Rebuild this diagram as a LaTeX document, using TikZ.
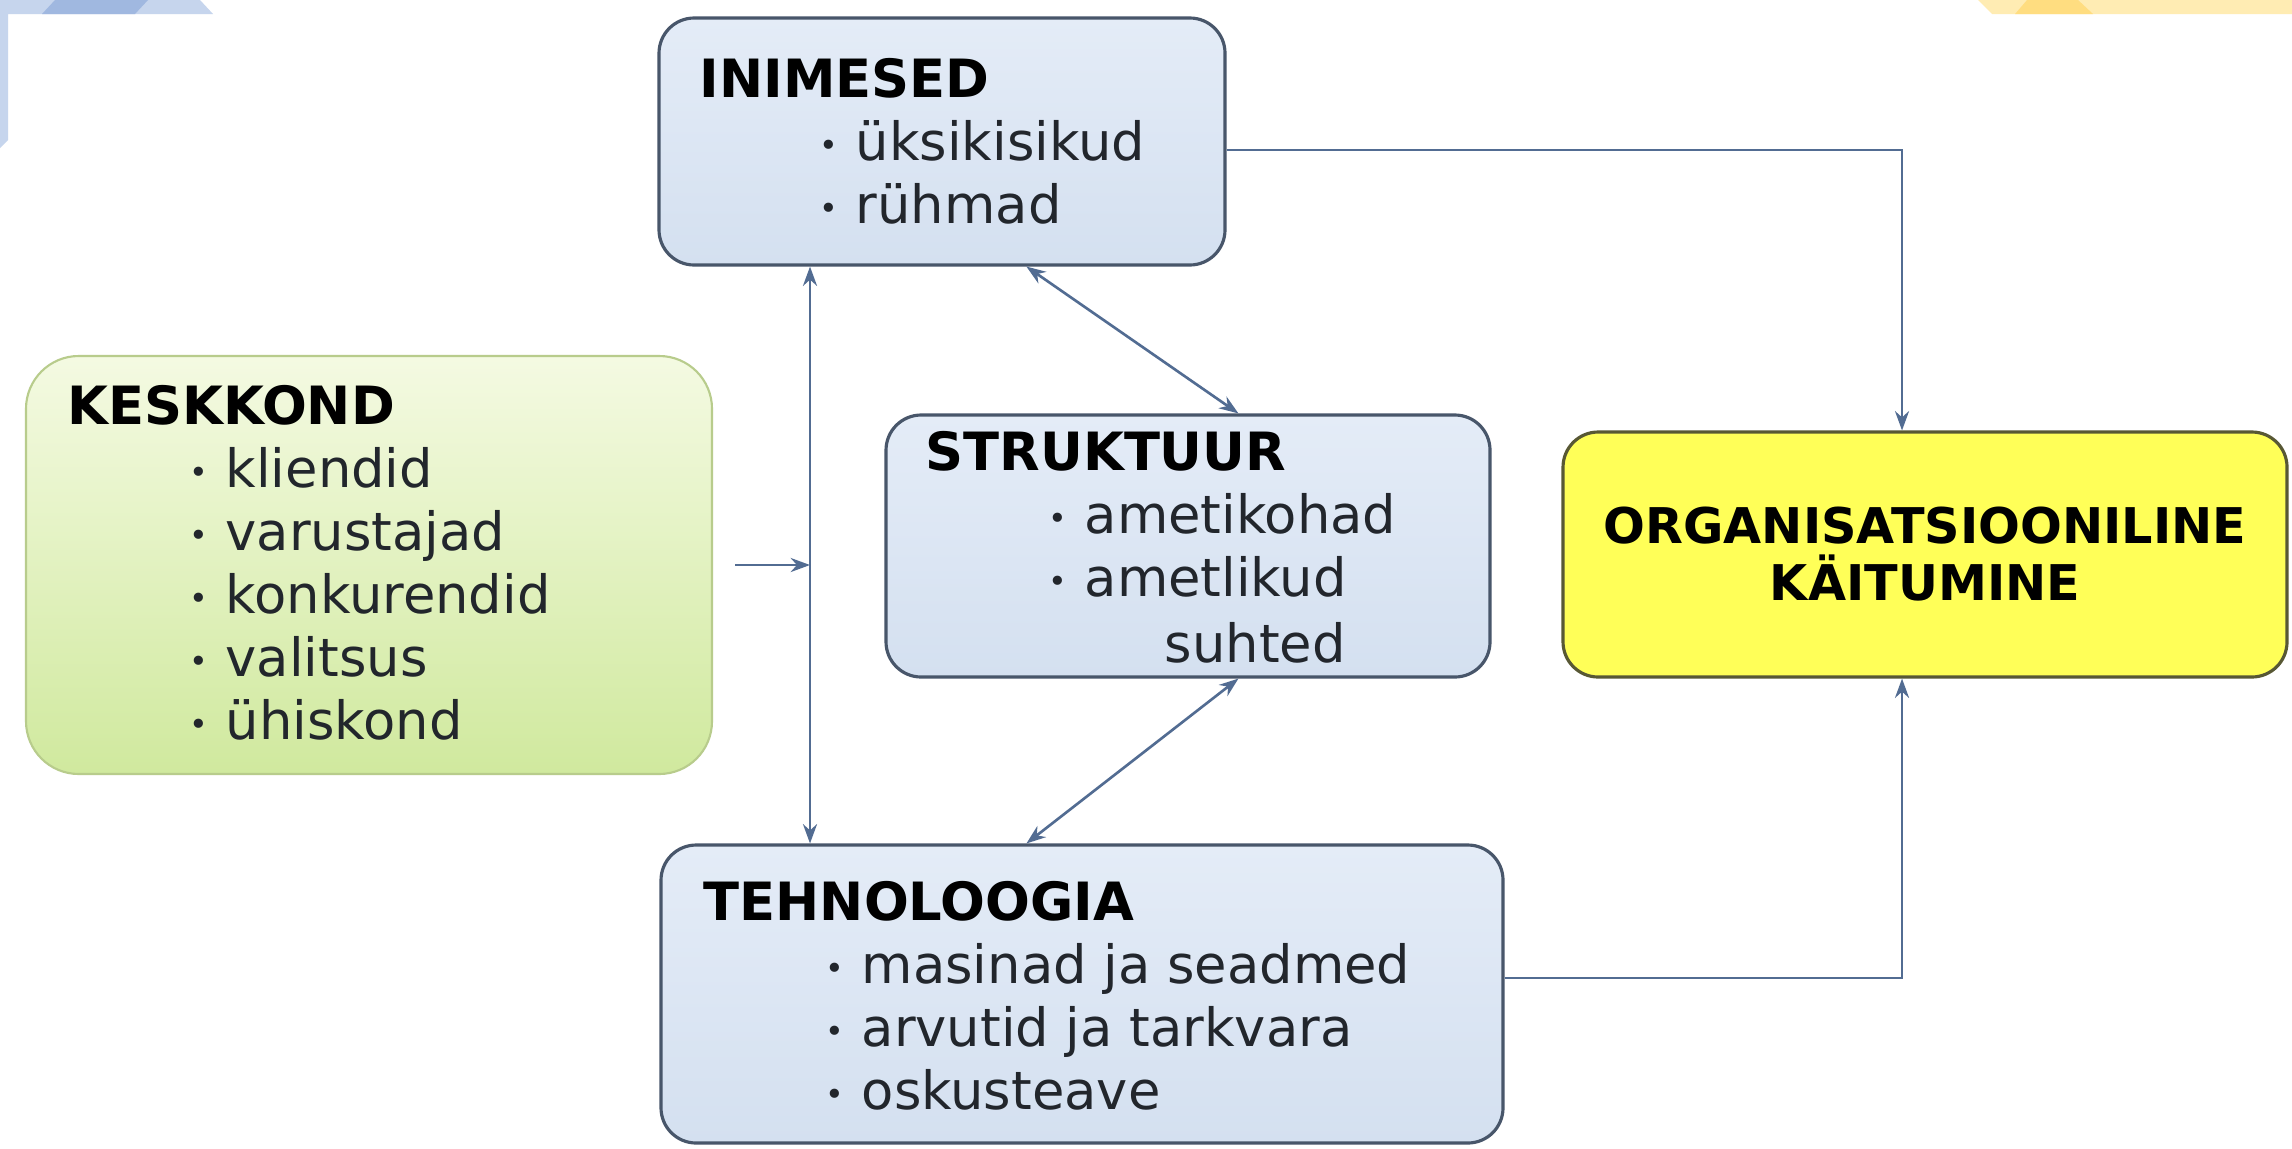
\documentclass[tikz,border=0pt]{standalone}
\usepackage{fontspec}
\setmainfont{DejaVu Sans}
\usetikzlibrary{arrows.meta,calc,fit}
\definecolor{kBlueTop}{RGB}{228,236,247}
\definecolor{kBlueBot}{RGB}{212,224,240}
\definecolor{kLine}{RGB}{72,86,106}
\definecolor{kArrow}{RGB}{82,108,146}
\definecolor{kGreenTop}{RGB}{244,250,226}
\definecolor{kGreenBot}{RGB}{208,233,158}
\definecolor{kGreenLine}{RGB}{184,204,140}
\definecolor{kYellow}{RGB}{255,255,88}
\definecolor{kYellowLine}{RGB}{88,88,52}
\definecolor{kText}{RGB}{34,38,44}
\definecolor{decoBlue}{RGB}{198,213,237}
\definecolor{decoBlueDk}{RGB}{160,184,224}
\definecolor{decoYel}{RGB}{255,236,179}
\definecolor{decoYelDk}{RGB}{255,221,128}
\newcommand{\boxfont}{\fontsize{15pt}{18pt}\selectfont}
\newcommand{\itembul}{\llap{\raisebox{1pt}{\fontsize{9pt}{9pt}\selectfont •}\hspace{5pt}}}

\begin{document}
\begin{tikzpicture}[x=0.01cm, y=-0.01cm, >={Stealth[length=5.5pt,width=4pt]},
  box/.style={inner sep=0pt, line width=0.9pt},
  blubox/.style={box, rounded corners=10pt, draw=kLine, top color=kBlueTop, bottom color=kBlueBot},
  envbox/.style={box, rounded corners=15pt, draw=kGreenLine, line width=0.6pt, top color=kGreenTop, bottom color=kGreenBot},
  outbox/.style={box, rounded corners=10pt, draw=kYellowLine, fill=kYellow},
  title/.style={anchor=base west, inner sep=0pt, font=\boxfont\bfseries},
  item/.style={anchor=base west, inner sep=0pt, text=kText, font=\boxfont},
  link/.style={draw=kArrow, line width=0.75pt}]
\fill[white] (0,0) rectangle (2292,1148);
\useasboundingbox (0,0) rectangle (2292,1148);
% corner strips
\fill[decoBlue] (0,0) -- (200,0) -- (213,14) -- (8,14) -- (8,140) -- (0,148) -- cycle;
\fill[decoBlueDk] (55,0) -- (148,0) -- (135,14) -- (42,14) -- cycle;
\fill[decoYel] (1978,0) -- (2292,0) -- (2292,14) -- (1992,14) -- cycle;
\fill[decoYelDk] (2027,0) -- (2078,0) -- (2093,14) -- (2015,14) -- cycle;
% boxes
\node[blubox, fit={(659,18) (1225,265)}] (inim) {};
\node[envbox, fit={(26,356) (712,774)}] (kesk) {};
\node[blubox, fit={(886,415) (1490,677)}] (struk) {};
\node[outbox, fit={(1563,432) (2287,677)}] (org) {};
\node[blubox, fit={(661,845) (1503,1143)}] (tech) {};
% texts
\node[title] (inim-t) at (699,97) {INIMESED};
\foreach \txt [count=\i] in {üksikisikud,rühmad}
  \node[item] (inim-\i) at (855,97+63*\i) {\itembul\txt};
\node[title] (kesk-t) at (67,424) {KESKKOND};
\foreach \txt [count=\i] in {kliendid,varustajad,konkurendid,valitsus,ühiskond}
  \node[item] (kesk-\i) at (225,424+63*\i) {\itembul\txt};
\node[title] (struk-t) at (925,470) {STRUKTUUR};
\foreach \txt [count=\i] in {ametikohad,ametlikud}
  \node[item] (struk-\i) at (1084,470+63*\i) {\itembul\txt};
\node[item] (struk-3) at (1164,662) {suhted};
\node[title] (tech-t) at (703,920) {TEHNOLOOGIA};
\foreach \txt [count=\i] in {masinad ja seadmed,arvutid ja tarkvara,oskusteave}
  \node[item] (tech-\i) at (861,920+63*\i) {\itembul\txt};
\node[align=center, font=\fontsize{14pt}{16.2pt}\selectfont\bfseries] (org-t) at (org.center)
  {ORGANISATSIOONILINE\\KÄITUMINE};
% links
\coordinate (vl) at (810,0);
\coordinate (vr) at (1902,150);
\coordinate (vr2) at (1902,978);
\draw[link,<->] (inim.south -| vl) -- (tech.north -| vl);
\draw[link,->] ($(kesk.east)+(22,0)$) -- (kesk.east -| vl);
\draw[link,<->] ($(inim.south west)+(369,0)$) -- ($(struk.north west)+(354,0)$);
\draw[link,<->] ($(struk.south west)+(354,0)$) -- ($(tech.north west)+(367,0)$);
\draw[link,->] (inim.east |- vr) -- (vr) -- (org.north -| vr);
\draw[link,->] (tech.east |- vr2) -- (vr2) -- (org.south -| vr);
\end{tikzpicture}
\end{document}
